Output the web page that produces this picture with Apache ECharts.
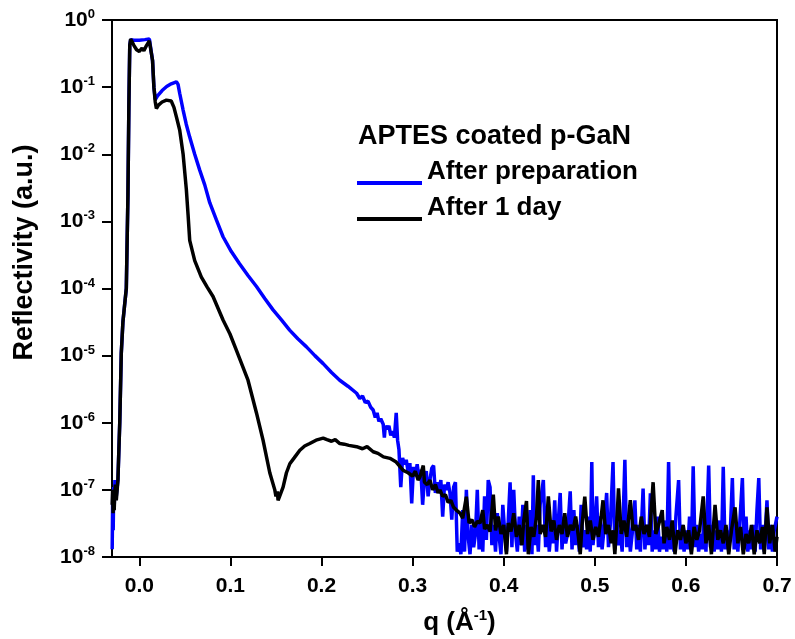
<!DOCTYPE html>
<html>
<head>
<meta charset="utf-8">
<script src="https://cdn.jsdelivr.net/npm/echarts@6/dist/echarts.min.js"></script>
<style>
html,body{margin:0;padding:0;background:#fff;}
#chart{width:795px;height:639px;}
</style>
</head>
<body>
<div id="chart"></div>
<script>
// ---- data (q in 1/Å, reflectivity in a.u.) ----
const seriesNames = ['After preparation', 'After 1 day'];
const legendTitle = 'APTES coated p-GaN';
const xTicks = [0.0, 0.1, 0.2, 0.3, 0.4, 0.5, 0.6, 0.7];
const yTickExponents = [0, -1, -2, -3, -4, -5, -6, -7, -8];

const afterPreparation = [
[-0.0298,1.3e-8],[-0.0292,9e-8],[-0.0287,2.5e-8],[-0.0281,1.1e-7],[-0.0275,6e-8],[-0.0268,1.4e-7],
[-0.0253,8e-8],[-0.0235,1.4e-7],[-0.0215,1e-6],[-0.0198,1.1e-5],[-0.018,3.2e-5],[-0.0162,5.6e-5],
[-0.0143,1e-4],[-0.0125,2.5e-3],[-0.0115,5e-2],[-0.0105,0.42],[-0.0095,0.51],[-0.006,0.5],[0.0,0.5],
[0.006,0.51],[0.011,0.52],[0.013,0.5],[0.0145,0.25],[0.016,0.1],[0.0175,0.065],[0.020,0.074],
[0.025,0.089],[0.030,0.102],[0.035,0.112],[0.0407,0.12],[0.0425,0.11],[0.0443,0.081],[0.048,0.046],
[0.0515,0.028],[0.0553,0.018],[0.0608,0.01],[0.0663,0.0058],[0.0718,0.0035],[0.0773,0.0019],
[0.0846,0.00105],[0.0919,0.00059],[0.101,0.000355],[0.110,0.000234],[0.1195,0.000155],[0.1286,0.000107],
[0.1377,7.1e-5],[0.1468,4.8e-5],[0.156,3.4e-5],[0.165,2.4e-5],[0.174,1.78e-5],[0.1835,1.35e-5],
[0.1927,1e-5],[0.2018,7.6e-6],[0.211,5.6e-6],[0.220,4.3e-6],[0.229,3.5e-6],[0.2385,2.75e-6],
[0.242,2.3e-6],[0.245,2.5e-6],[0.248,2.0e-6],[0.251,2.1e-6],[0.254,1.7e-6],[0.2567,1.55e-6],
[0.259,1.2e-6],[0.261,1.4e-6],[0.263,1.05e-6],[0.265,1.15e-6],[0.2677,9.5e-7],[0.269,6e-7],
[0.270,9e-7],[0.272,8e-7],[0.274,9e-7],[0.276,6.5e-7],[0.278,7.5e-7],[0.280,6e-7],[0.282,1.4e-6],
[0.2835,5.5e-7],[0.285,4e-7],[0.287,1.1e-7],[0.289,3e-7],[0.291,2.4e-7],[0.293,2.8e-7],[0.295,1.9e-7],
[0.297,2.5e-7],[0.299,6.3e-8],[0.301,2.2e-7],[0.303,1.6e-7],[0.305,2.4e-7],[0.307,1.5e-7],[0.309,2e-7],
[0.311,6e-8],[0.313,1.5e-7],[0.315,1.9e-7],[0.317,8e-8],[0.319,1.4e-7],[0.321,2.1e-7],[0.323,2.3e-7],
[0.325,9e-8],[0.327,1.3e-7],[0.329,1e-7],[0.331,1.4e-7],[0.333,4e-8],[0.335,1.2e-7],[0.337,1e-7],
[0.339,1.3e-7],[0.341,9e-8],[0.343,3.6e-8],[0.345,1.1e-7],[0.347,1.3e-7],[0.349,1.2e-8],[0.351,1.6e-8],
[0.353,1.1e-8],[0.355,5e-8],[0.357,1.2e-8],[0.359,1e-7],[0.361,2e-8],[0.363,1.1e-8],[0.365,3e-8],
[0.367,1.4e-8],[0.369,2.2e-8],[0.371,1e-7],[0.373,1.3e-8],[0.375,3.5e-8],[0.377,1.2e-8],[0.379,8e-8],
[0.381,1.8e-8],[0.383,1.4e-7],[0.385,1.1e-7],[0.387,1.5e-8],[0.389,3e-8],[0.391,1.2e-8],[0.393,4.5e-8],
[0.395,2e-8],[0.397,1.1e-8],[0.399,6e-8],[0.401,2.5e-8],[0.403,1.2e-8],[0.405,3.5e-8],[0.407,1.3e-7],
[0.409,1.4e-8],[0.411,1e-7],[0.413,2.2e-8],[0.415,1.2e-8],[0.417,4e-8],[0.419,1.5e-8],[0.421,6e-8],
[0.423,1.2e-8],[0.425,3e-8],[0.427,1.3e-8],[0.429,5e-8],[0.431,1.1e-8],[0.4325,1.65e-7],[0.434,1.5e-8],
[0.436,3e-8],[0.438,1.2e-8],[0.440,6e-8],[0.4435,1.4e-7],[0.446,1.4e-8],[0.448,4e-8],[0.450,1.2e-8],
[0.452,2.5e-8],[0.454,1.6e-8],[0.456,7e-8],[0.458,1.2e-8],[0.460,3.5e-8],[0.462,9e-8],[0.464,1.3e-8],
[0.466,4e-8],[0.468,1.6e-8],[0.470,2.2e-8],[0.473,9.5e-8],[0.475,1.3e-8],[0.477,5e-8],[0.479,1.5e-8],
[0.481,3e-8],[0.483,1.2e-8],[0.485,6e-8],[0.487,1.4e-8],[0.489,2.5e-8],[0.491,1.3e-8],[0.493,4e-8],
[0.495,1.2e-8],[0.4967,2.6e-7],[0.498,1.5e-8],[0.500,3e-8],[0.502,8e-8],[0.504,1.4e-8],[0.506,4e-8],
[0.508,1.3e-8],[0.510,2.5e-8],[0.513,9e-8],[0.515,1.4e-8],[0.517,3e-8],[0.520,2.6e-7],[0.522,1.3e-8],
[0.524,4e-8],[0.526,1.5e-8],[0.528,2.5e-8],[0.530,1.2e-8],[0.533,2.8e-7],[0.535,1.4e-8],[0.537,3.5e-8],
[0.539,1.2e-8],[0.541,2.2e-8],[0.544,7e-8],[0.546,1.3e-8],[0.548,3e-8],[0.550,1.2e-8],[0.553,1.05e-7],
[0.555,1.3e-8],[0.557,3e-8],[0.559,1.5e-8],[0.561,8.9e-8],[0.563,1.2e-8],[0.565,2.5e-8],[0.567,1.3e-8],
[0.569,4e-8],[0.571,1.2e-8],[0.573,2e-8],[0.575,1.3e-8],[0.577,3.5e-8],[0.579,1.2e-8],[0.581,2.6e-7],
[0.583,1.3e-8],[0.585,2.5e-8],[0.587,1.2e-8],[0.589,4e-8],[0.592,1.4e-7],[0.594,1.3e-8],[0.596,3e-8],
[0.598,1.2e-8],[0.600,2.5e-8],[0.602,1.3e-8],[0.604,4e-8],[0.606,1.2e-8],[0.608,2.25e-7],[0.610,1.4e-8],
[0.612,3e-8],[0.614,1.2e-8],[0.616,2.2e-8],[0.618,1.3e-8],[0.620,4.5e-8],[0.622,1.2e-8],[0.625,2.3e-7],
[0.627,1.4e-8],[0.629,3e-8],[0.631,1.2e-8],[0.633,2.5e-8],[0.635,1.3e-8],[0.637,3.5e-8],[0.639,1.2e-8],
[0.641,2.2e-7],[0.643,1.3e-8],[0.645,2.5e-8],[0.647,1.2e-8],[0.649,3e-8],[0.651,1.5e-7],[0.653,1.3e-8],
[0.655,2.5e-8],[0.657,1.2e-8],[0.659,3e-8],[0.662,1.5e-7],[0.664,1.3e-8],[0.666,4e-8],[0.668,1.2e-8],
[0.670,2.5e-8],[0.672,1.3e-8],[0.674,3e-8],[0.676,1.2e-8],[0.678,5e-8],[0.680,1.5e-7],[0.682,1.3e-8],
[0.684,3e-8],[0.686,1.2e-8],[0.689,7e-8],[0.691,1.3e-8],[0.693,3e-8],[0.695,1.2e-8],[0.697,2.5e-8],
[0.700,4e-8]
];

const afterOneDay = [
[-0.0298,6e-8],[-0.0293,1e-7],[-0.0288,4.5e-8],[-0.0282,8e-8],[-0.0276,5e-8],[-0.027,9e-8],
[-0.0262,1.2e-7],[-0.0253,7e-8],[-0.0235,1.4e-7],[-0.0215,1e-6],[-0.0198,1.1e-5],[-0.018,3.2e-5],
[-0.0162,5.6e-5],[-0.0143,1e-4],[-0.0125,2.5e-3],[-0.0115,5e-2],[-0.0105,0.42],[-0.0095,0.52],
[-0.006,0.42],[-0.003,0.36],[0.0,0.34],[0.003,0.38],[0.005,0.35],[0.008,0.42],[0.011,0.49],[0.0125,0.5],
[0.0145,0.25],[0.016,0.1],[0.0175,0.06],[0.0187,0.048],[0.021,0.054],[0.025,0.06],[0.0297,0.064],
[0.035,0.062],[0.038,0.05],[0.0407,0.036],[0.0443,0.023],[0.048,0.0102],[0.0516,0.003],[0.0535,0.00126],
[0.0553,0.00052],[0.0608,0.00026],[0.0681,0.000148],[0.0745,0.000105],[0.0809,7.6e-5],[0.0919,3.4e-5],
[0.0995,2.1e-5],[0.1066,1.2e-5],[0.1193,4.3e-6],[0.1286,1.4e-6],[0.1358,5.5e-7],[0.1432,1.8e-7],
[0.1487,1e-7],[0.150,8e-8],[0.1515,9.5e-8],[0.1523,7e-8],[0.154,8e-8],[0.1578,1.1e-7],[0.1615,1.8e-7],
[0.1652,2.45e-7],[0.170,3e-7],[0.1762,3.9e-7],[0.1815,4.5e-7],[0.1871,4.9e-7],[0.194,5.5e-7],
[0.2018,5.9e-7],[0.206,5.6e-7],[0.211,5.3e-7],[0.215,5.6e-7],[0.2201,4.9e-7],[0.225,4.8e-7],
[0.230,4.6e-7],[0.2385,4.4e-7],[0.245,4.1e-7],[0.250,4.4e-7],[0.2567,3.7e-7],[0.262,3.5e-7],
[0.268,3.1e-7],[0.2751,2.95e-7],[0.282,2.6e-7],[0.2897,1.95e-7],[0.295,1.8e-7],[0.300,1.6e-7],
[0.303,1.9e-7],[0.306,1.4e-7],[0.308,1.55e-7],[0.3117,2.3e-7],[0.313,1.3e-7],[0.316,1.2e-7],
[0.319,1.4e-7],[0.322,1.0e-7],[0.325,1.2e-7],[0.328,9e-8],[0.330,1e-7],[0.333,8e-8],[0.336,8.5e-8],
[0.339,6.5e-8],[0.342,7e-8],[0.345,5.5e-8],[0.348,5e-8],[0.352,4.5e-8],[0.355,3.8e-8],[0.359,7.9e-8],
[0.362,3.2e-8],[0.365,3.6e-8],[0.368,2.8e-8],[0.371,3.4e-8],[0.374,3.2e-8],[0.377,5e-8],[0.379,2.6e-8],
[0.382,3e-8],[0.385,2.4e-8],[0.3886,8.5e-8],[0.391,2.5e-8],[0.394,4e-8],[0.397,2.2e-8],[0.400,3e-8],
[0.403,1.1e-8],[0.405,3.2e-8],[0.408,2.4e-8],[0.411,4.5e-8],[0.414,2e-8],[0.417,3e-8],[0.420,1.5e-8],
[0.422,3.5e-8],[0.425,6.8e-8],[0.427,1.1e-8],[0.430,2.8e-8],[0.433,2e-8],[0.436,4e-8],[0.438,1.4e-7],
[0.440,2.2e-8],[0.443,3e-8],[0.446,2e-8],[0.449,8e-8],[0.452,2.4e-8],[0.455,3.5e-8],[0.458,1.8e-8],
[0.461,3e-8],[0.464,2.2e-8],[0.467,4.5e-8],[0.470,2e-8],[0.473,3e-8],[0.476,2.5e-8],[0.479,4e-8],
[0.482,2e-8],[0.484,1.1e-8],[0.486,3e-8],[0.489,7.9e-8],[0.492,2.2e-8],[0.495,3.5e-8],[0.498,1.8e-8],
[0.501,2.8e-8],[0.504,2e-8],[0.507,4e-8],[0.509,7e-8],[0.512,2.2e-8],[0.515,3e-8],[0.518,1.6e-8],
[0.520,2.5e-8],[0.522,1.1e-8],[0.524,3e-8],[0.526,1.05e-7],[0.529,2.2e-8],[0.532,3.5e-8],[0.535,2e-8],
[0.539,7e-8],[0.542,2.5e-8],[0.545,3e-8],[0.548,1.8e-8],[0.551,4e-8],[0.554,2.2e-8],[0.557,3e-8],
[0.560,2e-8],[0.564,1.3e-7],[0.567,2.2e-8],[0.570,3e-8],[0.574,5e-8],[0.576,1.6e-8],[0.579,2.8e-8],
[0.582,1.8e-8],[0.585,3.5e-8],[0.588,1.1e-8],[0.591,2.5e-8],[0.594,1.8e-8],[0.597,3e-8],[0.600,1.6e-8],
[0.603,2.5e-8],[0.606,1.1e-8],[0.609,2.8e-8],[0.612,1.8e-8],[0.615,2.5e-8],[0.619,8e-8],[0.622,1.6e-8],
[0.625,3e-8],[0.628,1.1e-8],[0.632,6e-8],[0.635,1.8e-8],[0.638,2.5e-8],[0.641,1.6e-8],[0.644,3e-8],
[0.647,1.1e-8],[0.650,2.5e-8],[0.654,5.5e-8],[0.657,1.6e-8],[0.660,2.8e-8],[0.663,1.1e-8],[0.666,2.2e-8],
[0.669,1.6e-8],[0.672,3e-8],[0.675,1.1e-8],[0.678,2.5e-8],[0.681,1.6e-8],[0.684,2.8e-8],[0.686,1.1e-8],
[0.689,5.5e-8],[0.692,1.6e-8],[0.695,3e-8],[0.698,1.2e-8],[0.700,2e-8]
];

// ---- chart ----
const FONT = '"Liberation Sans", Arial, sans-serif';
const chart = echarts.init(document.getElementById('chart'), null, {renderer: 'canvas'});

// legend icon: a line sitting near the bottom of a taller (invisible) box
const legendIcon = 'path://M0,0L0.01,0L0.01,0.01Z M0,22L65,22L65,26L0,26Z';

const option = {
  animation: false,
  backgroundColor: '#ffffff',
  grid: {
    left: 112, right: 18, top: 20, bottom: 82,
    outerBoundsMode: 'none', containLabel: false,
    show: true, borderColor: '#000', borderWidth: 2, backgroundColor: 'transparent'
  },
  legend: {
    orient: 'vertical',
    left: 352, top: 154,
    itemWidth: 65, itemHeight: 26, itemGap: 10,
    icon: legendIcon,
    data: seriesNames,
    textStyle: {fontFamily: FONT, fontSize: 26, fontWeight: 'bold', color: '#000'}
  },
  graphic: [{
    type: 'text', left: 358, top: 123,
    style: {text: legendTitle, fontFamily: FONT, fontSize: 27, fontWeight: 'bold', fill: '#000'}
  }],
  xAxis: {
    type: 'value', min: -0.03, max: 0.7,
    name: '{a|q (Å}{s|-1}{a|)}',
    nameLocation: 'middle', nameGap: 51,
    nameTextStyle: {
      padding: [0, 0, 0, 30],
      rich: {
        a: {fontFamily: FONT, fontSize: 26, fontWeight: 'bold', color: '#000', lineHeight: 30},
        s: {fontFamily: FONT, fontSize: 15, fontWeight: 'bold', color: '#000', verticalAlign: 'top', lineHeight: 15}
      }
    },
    axisLine: {show: true, onZero: false, lineStyle: {color: '#000', width: 2}},
    axisTick: {show: true, inside: false, length: 9, lineStyle: {color: '#000', width: 2}, customValues: xTicks},
    axisLabel: {
      customValues: xTicks, margin: 19,
      fontFamily: FONT, fontSize: 21, fontWeight: 'bold', color: '#000',
      formatter: v => Number(v).toFixed(1)
    },
    splitLine: {show: false}
  },
  yAxis: {
    type: 'log', logBase: 10, min: 1e-8, max: 1,
    name: 'Reflectivity (a.u.)',
    nameLocation: 'middle', nameGap: 74, nameRotate: 90,
    nameTextStyle: {fontFamily: FONT, fontSize: 27, fontWeight: 'bold', color: '#000', padding: [0, 0, 0, 72]},
    axisLine: {show: true, onZero: false, lineStyle: {color: '#000', width: 2}},
    axisTick: {show: true, inside: false, length: 10, lineStyle: {color: '#000', width: 2}},
    axisLabel: {
      margin: 17,
      formatter: v => {
        const e = Math.round(Math.log10(v));
        return yTickExponents.indexOf(e) >= 0 ? '{b|10}{s|' + e + '}' : '';
      },
      rich: {
        b: {fontFamily: FONT, fontSize: 21, fontWeight: 'bold', color: '#000', lineHeight: 24},
        s: {fontFamily: FONT, fontSize: 13, fontWeight: 'bold', color: '#000', verticalAlign: 'top', lineHeight: 13}
      }
    },
    splitLine: {show: false}
  },
  series: [
    {
      name: seriesNames[0], type: 'line', data: afterPreparation,
      showSymbol: false, symbol: 'none', clip: true,
      lineStyle: {color: '#0000ff', width: 3.5}, itemStyle: {color: '#0000ff'}
    },
    {
      name: seriesNames[1], type: 'line', data: afterOneDay,
      showSymbol: false, symbol: 'none', clip: true,
      lineStyle: {color: '#000000', width: 3.5}, itemStyle: {color: '#000000'}
    }
  ]
};
chart.setOption(option);
</script>
</body>
</html>
